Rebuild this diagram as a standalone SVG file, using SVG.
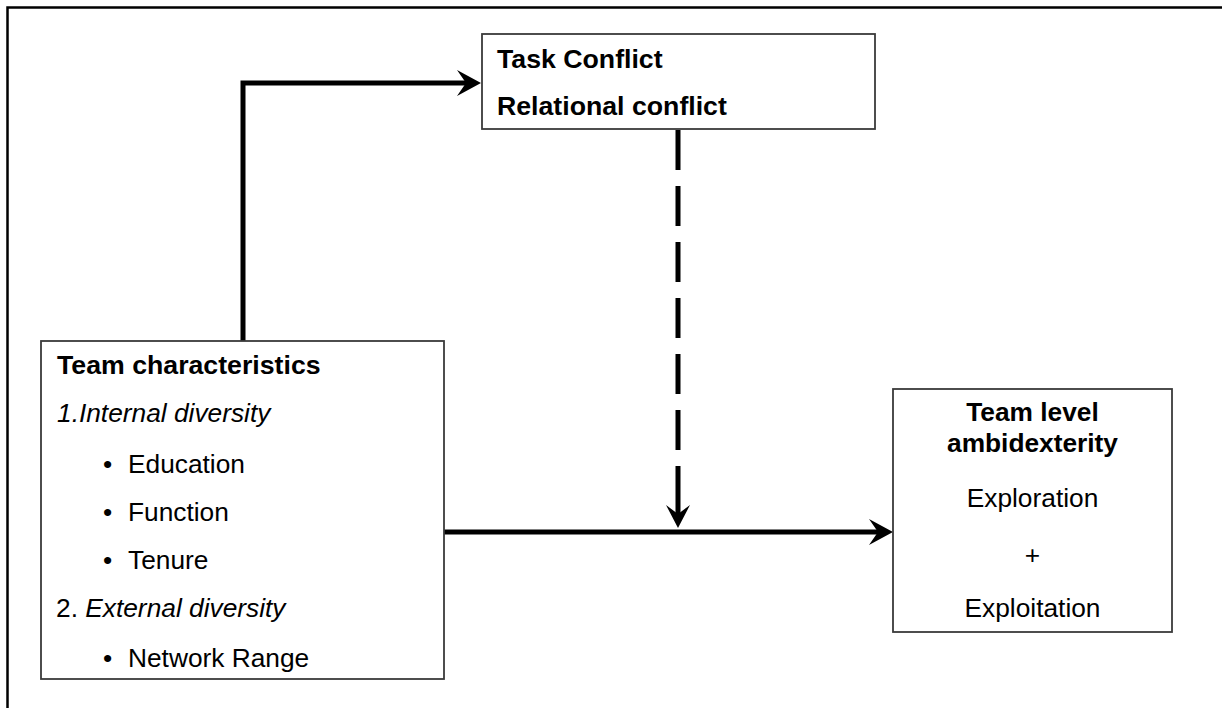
<svg xmlns="http://www.w3.org/2000/svg" width="1222" height="708" viewBox="0 0 1222 708">
<style>
.frame{stroke:#000;stroke-width:2.5;fill:none}
.box{fill:#fff;stroke:#3a3a3a;stroke-width:1.8}
.conn{stroke:#000;stroke-width:5;fill:none}
.head{fill:#000;stroke:none}
text{font-family:"Liberation Sans",Arial,sans-serif;font-size:26.3px;fill:#000}
.b{font-weight:bold}
.bl{font-weight:bold;font-size:26.7px}
.i{font-style:italic}
.c{text-anchor:middle}
</style>
<rect width="1222" height="708" fill="#fff"/>
<path class="frame" d="M7.5,708 V7.5 H1222"/>
<g id="connectors">
<path class="conn" d="M243,341 V83 H467" stroke-linejoin="miter"/>
<polygon class="head" points="481,83 457,70 466,83 457,96"/>
<path class="conn" d="M444,532 H879"/>
<polygon class="head" points="893,532 869,519 878,532 869,545"/>
<path class="conn" d="M678,130 V516" stroke-dasharray="40 16 40 16 40 16 40 16 40 16 40 16 50 100"/>
<polygon class="head" points="678,528 666,505 678,514 690,505"/>
</g>
<g id="conflict">
<rect class="box" x="482" y="34" width="393" height="95"/>
<text class="bl" x="497" y="68">Task Conflict</text>
<text class="bl" x="497" y="115">Relational conflict</text>
</g>
<g id="team-characteristics">
<rect class="box" x="41" y="341" width="403" height="338"/>
<text class="bl" x="57" y="374">Team characteristics</text>
<text class="i" x="57" y="422">1.Internal diversity</text>
<text x="103" y="473">•</text><text x="128" y="473">Education</text>
<text x="103" y="521">•</text><text x="128" y="521">Function</text>
<text x="103" y="569">•</text><text x="128" y="569">Tenure</text>
<text x="56" y="617">2. <tspan class="i">External diversity</tspan></text>
<text x="103" y="667">•</text><text x="128" y="667">Network Range</text>
</g>
<g id="ambidexterity">
<rect class="box" x="893" y="389" width="279" height="243"/>
<text class="b c" x="1032.5" y="421">Team level</text>
<text class="b c" x="1032.5" y="452">ambidexterity</text>
<text class="c" x="1032.5" y="507">Exploration</text>
<text class="c" x="1032.5" y="564">+</text>
<text class="c" x="1032.5" y="617">Exploitation</text>
</g>
</svg>
